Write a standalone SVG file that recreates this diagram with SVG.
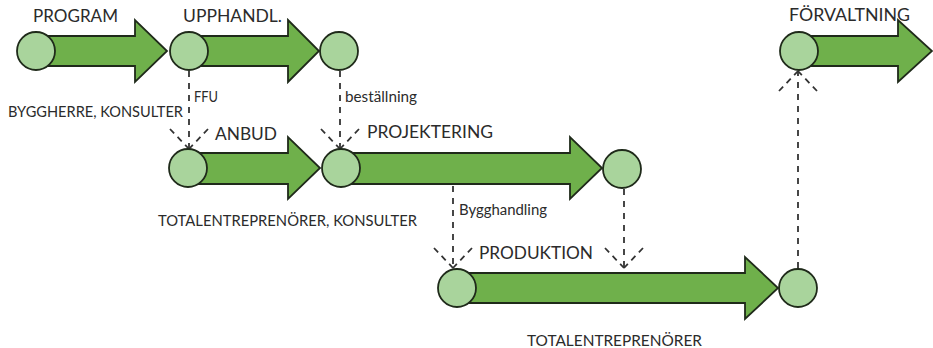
<svg xmlns="http://www.w3.org/2000/svg" width="933" height="348" viewBox="0 0 933 348">
  <style>
    .phase { fill: #6fb04b; stroke: #1f2a1a; stroke-width: 1.8; stroke-linejoin: miter; }
    .gate { fill: #a9d49c; stroke: #1f2a1a; stroke-width: 1.8; }
    .title { font-family: Lato, "Liberation Sans", sans-serif; font-size: 17.5px; fill: #2b2b2b; }
    .note { font-family: Lato, "Liberation Sans", sans-serif; font-size: 15.5px; fill: #2b2b2b; }
    .link { fill: none; stroke: #333333; stroke-width: 1.8; stroke-dasharray: 6 6; }
  </style>
  <defs>
    <!-- open arrowhead drawn with the same dashed stroke as the link -->
    <marker id="dashHead" markerUnits="userSpaceOnUse" orient="auto" markerWidth="50" markerHeight="50" refX="0" refY="0" viewBox="-25 -25 50 50" overflow="visible">
      <path d="M-20,-19 L0,0 M-20,19 L0,0" fill="none" stroke="#333333" stroke-width="1.8" stroke-dasharray="6 5"/>
    </marker>
  </defs>

  <!-- dashed hand-over links between phases -->
  <g id="connectors">
    <path class="link" d="M189,71 V149" marker-end="url(#dashHead)"/>
    <path class="link" d="M340,71 V149" marker-end="url(#dashHead)"/>
    <path class="link" d="M453,186 V268" marker-end="url(#dashHead)"/>
    <path class="link" d="M624,189 V268" marker-end="url(#dashHead)"/>
    <path class="link" d="M798,268 V71" marker-end="url(#dashHead)"/>
  </g>

  <g id="program">
    <polygon class="phase" points="40,36 135,36 135,20 167,51 135,82 135,66 40,66"/>
    <circle class="gate" cx="36" cy="51" r="19"/>
    <text class="title" x="33" y="22" textLength="85" lengthAdjust="spacingAndGlyphs">PROGRAM</text>
    <text class="note" x="8" y="117" textLength="175" lengthAdjust="spacingAndGlyphs">BYGGHERRE, KONSULTER</text>
  </g>

  <g id="upphandl">
    <polygon class="phase" points="195,36 288,36 288,20 319,51 288,82 288,66 195,66"/>
    <circle class="gate" cx="189" cy="51" r="19"/>
    <circle class="gate" cx="339" cy="51" r="19"/>
    <text class="title" x="183" y="22" textLength="99" lengthAdjust="spacingAndGlyphs">UPPHANDL.</text>
    <text class="note" x="194" y="102" textLength="24" lengthAdjust="spacingAndGlyphs">FFU</text>
    <text class="note" x="345" y="102" textLength="72" lengthAdjust="spacingAndGlyphs">beställning</text>
  </g>

  <g id="anbud">
    <polygon class="phase" points="195,153 288,153 288,137 320,168 288,199 288,184 195,184"/>
    <circle class="gate" cx="188" cy="168" r="19"/>
    <text class="title" x="215" y="140" textLength="62" lengthAdjust="spacingAndGlyphs">ANBUD</text>
    <text class="note" x="158" y="226" textLength="259" lengthAdjust="spacingAndGlyphs">TOTALENTREPRENÖRER, KONSULTER</text>
  </g>

  <g id="projektering">
    <polygon class="phase" points="345,153 570,153 570,137 602,168 570,199 570,184 345,184"/>
    <circle class="gate" cx="341" cy="168" r="19"/>
    <circle class="gate" cx="622" cy="169" r="19"/>
    <text class="title" x="367" y="138" textLength="126" lengthAdjust="spacingAndGlyphs">PROJEKTERING</text>
    <text class="note" x="459" y="215" textLength="88" lengthAdjust="spacingAndGlyphs">Bygghandling</text>
  </g>

  <g id="produktion">
    <polygon class="phase" points="462,273 745,273 745,257 778,288 745,319 745,303 462,303"/>
    <circle class="gate" cx="457" cy="288" r="19"/>
    <circle class="gate" cx="798" cy="288" r="19"/>
    <text class="title" x="479" y="259" textLength="114" lengthAdjust="spacingAndGlyphs">PRODUKTION</text>
    <text class="note" x="527" y="346" textLength="175" lengthAdjust="spacingAndGlyphs">TOTALENTREPRENÖRER</text>
  </g>

  <g id="forvaltning">
    <polygon class="phase" points="805,36 898,36 898,20 932,51 898,82 898,66 805,66"/>
    <circle class="gate" cx="799" cy="51" r="19"/>
    <text class="title" x="789" y="21" textLength="121" lengthAdjust="spacingAndGlyphs">FÖRVALTNING</text>
  </g>
</svg>
